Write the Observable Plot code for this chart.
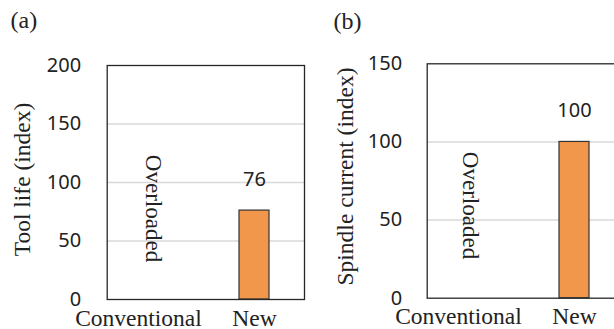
<!DOCTYPE html>
<html>
<head>
<meta charset="utf-8">
<script src="https://cdn.jsdelivr.net/npm/d3@7"></script>
<script src="https://cdn.jsdelivr.net/npm/@observablehq/plot@0.6"></script>
<style>
  html, body { margin: 0; padding: 0; background: #fff; }
  #wrap { position: relative; width: 614px; height: 329px; overflow: hidden; background: #fff; }
  #pa, #pb { position: absolute; top: 0; height: 329px; }
  #pa { left: 0; width: 310px; }
  #pb { left: 310px; width: 314px; }
  #wrap svg { overflow: visible; max-width: none !important; height: 329px !important; display: block; }
</style>
</head>
<body>
<div id="wrap"><div id="pa"></div><div id="pb"></div></div>
<script>
const categories = ["Conventional", "New"];
const toolLife = [null, 76];          // Conventional: overloaded (no value)
const spindleCurrent = [null, 100];   // Conventional: overloaded (no value)
const toolLifeTicks = [0, 50, 100, 150, 200];
const spindleTicks = [0, 50, 100, 150];
const overloadedText = "Overloaded";
const panelLabels = ["(a)", "(b)"];
const yTitles = ["Tool life (index)", "Spindle current (index)"];

const SERIF = "Liberation Serif, Times New Roman, serif";
const SANS = "Noto Sans, sans-serif";
const INK = "#222";
const BAR = "#F1974B";
const GRID = "#d9d9d9";

function panel(opts) {
  const data = categories.map((c, i) => ({category: c, value: opts.values[i]}));
  const bars = data.filter(d => d.value != null);
  const over = data.filter(d => d.value == null);
  const ymax = opts.ticks[opts.ticks.length - 1];
  const grid = opts.ticks.filter(t => t > 0 && t < ymax);
  return Plot.plot({
    width: opts.width,
    height: 329,
    marginLeft: opts.ml,
    marginRight: opts.mr,
    marginTop: opts.mt,
    marginBottom: opts.mb,
    style: {fontFamily: SANS, fontSize: "20px", color: INK, background: "transparent"},
    x: {domain: categories, padding: 0, axis: null},
    y: {domain: [0, ymax], axis: null},
    marks: [
      Plot.ruleY(grid, {stroke: GRID, strokeWidth: 1.5}),
      Plot.barY(bars, {x: "category", y: "value", fill: BAR, stroke: "#333", strokeWidth: 1.2, insetLeft: 34, insetRight: 34}),
      Plot.frame({stroke: "#262626", strokeWidth: 1.3}),
      Plot.axisY({ticks: opts.ticks, tickSize: 0, tickPadding: opts.tickPad, label: null, fontSize: 20, fontFamily: SANS, fill: INK}),
      Plot.text(bars, {x: "category", y: "value", text: d => String(d.value), dy: -31, lineAnchor: "middle", fontSize: 20, fontFamily: SANS, fill: INK}),
      Plot.text(over, {x: "category", frameAnchor: "middle", text: () => overloadedText, rotate: 90, dx: opts.overDx, dy: opts.overDy, fontSize: 23, fontFamily: SERIF, fill: INK}),
      Plot.text(categories.filter(c => c === "Conventional"), {x: d => d, frameAnchor: "bottom", text: d => d, lineAnchor: "top", dx: -18, dy: opts.catDy, fontSize: 23.5, fontFamily: SERIF, fill: INK}),
      Plot.text(categories.filter(c => c !== "Conventional"), {x: d => d, frameAnchor: "bottom", text: d => d, lineAnchor: "top", dy: opts.catDy, fontSize: 23.5, fontFamily: SERIF, fill: INK}),
      Plot.text([opts.title], {frameAnchor: "left", text: d => d, rotate: -90, dx: opts.titleDx, dy: opts.titleDy, textAnchor: "middle", lineAnchor: "middle", fontSize: 23.5, fontFamily: SERIF, fill: INK}),
      Plot.text([opts.panel], {frameAnchor: "top-left", text: d => d, textAnchor: "start", lineAnchor: "bottom", dx: opts.panelDx, dy: opts.panelDy, fontSize: 24, fontFamily: SERIF, fill: INK})
    ]
  });
}

document.getElementById("pa").appendChild(panel({
  values: toolLife, ticks: toolLifeTicks, width: 310,
  ml: 106.7, mr: 6, mt: 65, mb: 30, tickPad: 26,
  overDx: -3, overDy: 26, catDy: 9.5,
  title: yTitles[0], titleDx: -84.7, titleDy: -3,
  panel: panelLabels[0], panelDx: -96.7, panelDy: -37.6
}));

document.getElementById("pb").appendChild(panel({
  values: spindleCurrent, ticks: spindleTicks, width: 314,
  ml: 116.7, mr: 1, mt: 63.3, mb: 31.3, tickPad: 25,
  overDx: -6, overDy: 24.5, catDy: 9.3,
  title: yTitles[1], titleDx: -81.7, titleDy: -4.5,
  panel: panelLabels[1], panelDx: -93.7, panelDy: -35.3
}));
</script>
</body>
</html>
